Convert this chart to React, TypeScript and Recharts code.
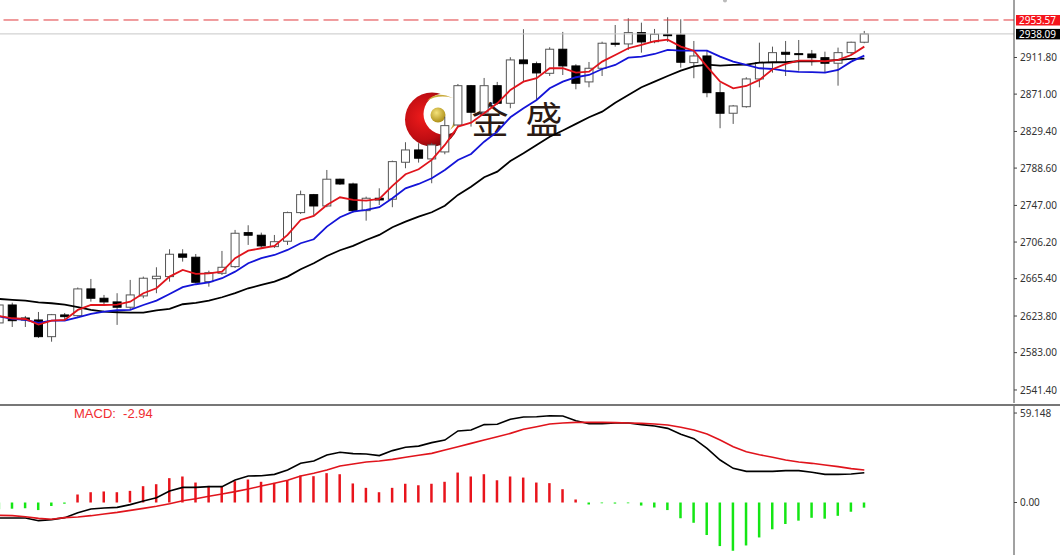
import { Bar, Cell, ComposedChart, Line, ReferenceDot, ReferenceLine, XAxis, YAxis } from "recharts";

// candles, oldest first (the first one is cut by the left edge)
const open = [2616.1, 2636.1, 2621.6, 2619.4, 2600.8, 2625.0, 2624.2, 2654.0, 2643.6, 2639.5, 2633.6, 2646.2, 2665.4, 2667.7, 2692.9, 2689.3, 2662.1, 2671.4, 2678.8, 2716.7, 2713.8, 2701.1, 2707.1, 2739.0, 2759.0, 2746.4, 2776.2, 2770.9, 2741.2, 2755.0, 2753.9, 2795.1, 2808.8, 2798.8, 2806.6, 2836.6, 2880.4, 2851.1, 2880.4, 2860.8, 2909.1, 2904.9, 2894.2, 2921.0, 2902.4, 2884.6, 2899.8, 2927.7, 2926.9, 2939.5, 2929.4, 2937.2, 2936.9, 2906.1, 2913.5, 2872.6, 2849.7, 2857.0, 2887.9, 2906.1, 2917.6, 2916.1, 2915.7, 2911.6, 2905.4, 2917.2, 2928.8];
const high = [2638.3, 2638.7, 2623.9, 2628.3, 2626.1, 2627.2, 2655.6, 2665.1, 2647.3, 2649.2, 2664.0, 2667.7, 2678.1, 2698.2, 2698.2, 2692.9, 2674.3, 2696.3, 2719.7, 2724.9, 2716.7, 2714.1, 2740.1, 2763.5, 2759.8, 2786.5, 2776.8, 2772.4, 2756.8, 2766.1, 2796.9, 2817.4, 2816.3, 2816.6, 2845.9, 2882.3, 2881.2, 2889.0, 2884.6, 2912.1, 2943.3, 2907.2, 2923.2, 2940.3, 2904.3, 2906.8, 2929.4, 2948.0, 2955.5, 2950.6, 2943.6, 2956.6, 2954.4, 2930.2, 2920.2, 2883.8, 2858.9, 2889.8, 2928.3, 2923.9, 2930.2, 2931.3, 2920.2, 2918.3, 2922.8, 2929.4, 2941.4];
const low = [2612.7, 2611.6, 2611.6, 2599.4, 2595.2, 2619.4, 2623.1, 2639.8, 2636.1, 2613.9, 2630.6, 2643.6, 2649.2, 2662.1, 2684.4, 2660.3, 2656.5, 2669.5, 2677.3, 2703.0, 2699.6, 2699.6, 2703.0, 2737.5, 2736.4, 2745.0, 2769.8, 2739.0, 2730.0, 2747.5, 2745.0, 2788.4, 2794.7, 2771.7, 2804.0, 2835.5, 2834.8, 2847.8, 2858.9, 2855.3, 2884.9, 2864.5, 2891.2, 2892.3, 2876.4, 2878.6, 2891.2, 2923.9, 2920.2, 2917.2, 2927.7, 2929.1, 2900.5, 2888.7, 2867.5, 2833.0, 2837.8, 2855.9, 2878.6, 2894.9, 2891.2, 2897.1, 2902.7, 2895.4, 2880.4, 2914.6, 2927.7];
const close = [2636.1, 2618.6, 2619.4, 2600.8, 2625.3, 2623.1, 2654.0, 2643.6, 2639.5, 2633.6, 2647.3, 2665.9, 2668.1, 2692.6, 2689.3, 2661.4, 2672.1, 2678.1, 2716.0, 2713.8, 2701.9, 2706.6, 2739.0, 2759.0, 2746.4, 2776.2, 2770.9, 2741.2, 2755.0, 2753.1, 2795.8, 2808.8, 2799.6, 2814.4, 2835.9, 2880.4, 2850.8, 2880.4, 2860.8, 2909.1, 2904.9, 2894.6, 2921.0, 2902.4, 2883.1, 2899.8, 2927.7, 2926.5, 2939.5, 2929.1, 2937.7, 2936.6, 2906.5, 2913.5, 2872.6, 2849.7, 2857.8, 2887.9, 2906.1, 2917.2, 2915.4, 2915.2, 2911.6, 2905.4, 2917.2, 2928.8, 2938.09];

// moving averages
const maFast = [2623.9, 2621.3, 2620.5, 2614.2, 2618.6, 2619.4, 2630.6, 2636.1, 2636.1, 2636.5, 2639.8, 2649.2, 2654.7, 2667.7, 2675.1, 2670.7, 2671.4, 2673.2, 2688.2, 2696.6, 2699.3, 2701.9, 2714.1, 2730.8, 2735.3, 2747.5, 2756.1, 2753.1, 2752.3, 2754.2, 2768.7, 2781.7, 2787.3, 2797.7, 2814.4, 2834.8, 2839.2, 2849.7, 2860.8, 2875.6, 2884.9, 2888.7, 2899.8, 2899.8, 2894.9, 2896.0, 2907.2, 2914.6, 2922.1, 2925.8, 2929.9, 2931.7, 2923.9, 2919.4, 2901.6, 2884.9, 2877.5, 2880.1, 2886.8, 2898.7, 2904.6, 2908.3, 2908.3, 2907.6, 2909.1, 2914.6, 2923.9];
const maMid = [2623.3, 2620.5, 2619.4, 2616.1, 2618.6, 2618.6, 2622.4, 2626.1, 2628.7, 2630.2, 2630.6, 2636.1, 2640.9, 2648.4, 2655.9, 2659.2, 2661.4, 2665.9, 2673.2, 2682.6, 2688.2, 2691.8, 2697.4, 2704.9, 2709.3, 2723.4, 2733.8, 2740.1, 2742.0, 2745.0, 2755.0, 2766.1, 2770.9, 2777.3, 2786.5, 2797.7, 2804.3, 2818.0, 2829.2, 2845.2, 2855.3, 2864.5, 2877.5, 2884.9, 2889.8, 2892.3, 2899.0, 2903.5, 2911.6, 2912.7, 2915.7, 2920.2, 2919.4, 2919.4, 2919.4, 2912.7, 2907.2, 2903.5, 2899.8, 2899.0, 2896.8, 2895.7, 2895.4, 2894.9, 2897.9, 2907.2, 2913.9];
const maSlow = [2642.8, 2641.7, 2640.9, 2639.1, 2638.0, 2636.5, 2633.6, 2630.6, 2628.7, 2628.0, 2627.6, 2627.6, 2630.2, 2631.7, 2636.9, 2638.4, 2640.9, 2644.7, 2649.2, 2654.7, 2658.4, 2662.1, 2667.7, 2675.9, 2682.6, 2690.7, 2697.1, 2701.9, 2708.5, 2714.1, 2722.7, 2728.9, 2734.5, 2739.4, 2746.7, 2758.7, 2767.9, 2778.4, 2784.6, 2796.5, 2805.1, 2814.4, 2823.6, 2830.5, 2837.8, 2845.2, 2851.5, 2861.5, 2870.1, 2878.6, 2884.9, 2891.2, 2897.1, 2902.0, 2903.8, 2902.7, 2903.5, 2903.8, 2906.1, 2906.5, 2906.5, 2907.6, 2907.6, 2907.9, 2909.1, 2910.2, 2910.5];

// MACD panel
const histogram = [-4.5, -4.1, -3.8, -5.0, -2.3, -0.8, 5.3, 6.8, 7.3, 6.8, 7.7, 10.8, 12.1, 16.1, 17.2, 13.2, 11.0, 10.8, 14.1, 15.2, 13.7, 13.0, 14.7, 17.8, 17.4, 19.4, 18.7, 12.6, 9.7, 6.8, 9.7, 12.4, 11.4, 12.4, 13.7, 19.8, 17.2, 18.7, 14.7, 17.2, 16.5, 13.2, 12.8, 8.8, 2.0, -1.3, -0.5, -0.7, -0.5, -2.0, -3.3, -5.0, -10.4, -13.4, -21.5, -28.8, -31.9, -28.4, -23.1, -17.7, -14.2, -12.0, -10.1, -10.7, -8.8, -6.1, -3.4];
const macdLine = [-10.2, -10.2, -10.2, -12.0, -11.3, -10.0, -6.7, -4.3, -3.6, -3.2, -1.4, 1.0, 3.2, 7.6, 10.0, 10.0, 10.5, 10.5, 14.9, 17.5, 17.7, 18.6, 21.5, 25.9, 27.4, 31.4, 33.2, 32.3, 32.1, 31.0, 34.3, 36.5, 37.3, 39.6, 41.3, 47.3, 47.9, 51.5, 51.7, 55.0, 56.5, 56.7, 57.4, 57.2, 54.1, 52.1, 52.1, 52.6, 52.6, 51.5, 50.6, 49.0, 45.1, 42.2, 35.8, 28.1, 22.6, 20.6, 20.6, 20.6, 21.1, 21.1, 20.0, 18.6, 18.6, 18.8, 19.7];
const signalLine = [-8.5, -8.7, -9.4, -10.5, -11.1, -10.0, -9.6, -8.7, -7.6, -6.5, -5.2, -3.9, -2.5, -0.8, 1.2, 2.5, 4.1, 5.6, 7.2, 8.9, 10.9, 12.7, 14.7, 17.5, 19.3, 21.5, 24.1, 25.5, 26.8, 27.4, 28.5, 29.9, 31.2, 32.5, 34.7, 36.9, 39.1, 41.3, 43.5, 45.7, 48.4, 50.1, 51.9, 52.6, 53.0, 53.0, 53.0, 52.8, 52.6, 52.3, 51.9, 51.2, 49.7, 47.9, 45.3, 41.3, 36.9, 33.6, 31.6, 29.9, 28.1, 26.8, 25.9, 24.8, 23.7, 22.4, 21.5];

const priceTicks = [2911.8, 2871.0, 2829.4, 2788.6, 2747.0, 2706.2, 2665.4, 2623.8, 2583.0, 2541.4];
const macdTicks = [59.148, 0];
const askPrice = 2953.57;
const lastPrice = 2938.09;

const priceData = open.map((o, i) => ({
  idx: i - 1,
  open: o,
  high: high[i],
  low: low[i],
  close: close[i],
  maFast: maFast[i],
  maMid: maMid[i],
  maSlow: maSlow[i],
}));

const macdData = histogram.map((h, i) => ({
  idx: i - 1,
  hist: h,
  macd: macdLine[i],
  signal: signalLine[i],
}));

const xDomain = [-0.938, 76.42];
const tickStyle = { fill: "#333", fontSize: 10, fontFamily: "'Noto Sans'" };

const Candle = (props: any) => {
  const { x, y, width, height, payload } = props;
  const perUnit = height / (payload.high - payload.low);
  const top = y + (payload.high - Math.max(payload.open, payload.close)) * perUnit;
  const bottom = y + (payload.high - Math.min(payload.open, payload.close)) * perUnit;
  const mid = x + width / 2;
  const down = payload.close < payload.open;
  return (
    <g>
      <line x1={mid} x2={mid} y1={y} y2={y + height} stroke="#555" strokeWidth={1} />
      <rect
        x={x + 0.5}
        y={top}
        width={width - 1}
        height={Math.max(bottom - top, 1)}
        fill={down ? "#000" : "#fff"}
        stroke={down ? "#000" : "#555"}
        strokeWidth={1}
      />
    </g>
  );
};

const priceTag = (fill: string, text: string) => (props: any) => {
  const { viewBox } = props;
  const right = viewBox.x + viewBox.width;
  return (
    <g>
      <rect x={right + 2} y={viewBox.y - 5} width={44} height={10.5} fill={fill} />
      <text x={right + 5} y={viewBox.y + 4} fill="#fff" fontSize={10} fontFamily="'Noto Sans'">
        {text}
      </text>
    </g>
  );
};

// company mark, sits behind the candles
const Logo = () => (
  <svg width={1060} height={555} style={{ position: "absolute", left: 0, top: 0 }}>
    <defs>
      <radialGradient id="moon" cx="0.35" cy="0.45" r="0.7">
        <stop offset="0" stopColor="#f01c1c" />
        <stop offset="0.6" stopColor="#c00d12" />
        <stop offset="1" stopColor="#5e0508" />
      </radialGradient>
      <radialGradient id="ball" cx="0.4" cy="0.35" r="0.7">
        <stop offset="0" stopColor="#f4e27a" />
        <stop offset="1" stopColor="#a98a12" />
      </radialGradient>
    </defs>
    <circle cx={432} cy={119.5} r={27} fill="url(#moon)" />
    <circle cx={444} cy={114} r={20.5} fill="#fff" />
    <circle cx={438} cy={115} r={7.5} fill="url(#ball)" />
    <path d="M427 101 Q436 90 453 98 Q438 94 427 101 Z" fill="#c9aa3a" />
    <path d="M458 112 Q461 122 450 130 Q456 121 454 113 Z" fill="#c9aa3a" />
    <text x={490} y={134} textAnchor="middle" fontSize={37} fontFamily="'Noto Sans CJK SC'" fill="#2b1a14">
      金
    </text>
    <text x={544} y={134} textAnchor="middle" fontSize={37} fontFamily="'Noto Sans CJK SC'" fill="#2b1a14">
      盛
    </text>
  </svg>
);

export default function App() {
  return (
    <div style={{ position: "absolute", left: 0, top: 0, width: 1060, height: 555, overflow: "hidden", background: "#fff" }}>
      <Logo />
      <div style={{ position: "absolute", left: 0, top: 0 }}>
        <ComposedChart width={1060} height={403} data={priceData} margin={{ top: 0, right: 0, bottom: 0, left: 0 }}>
          <XAxis dataKey="idx" type="number" domain={xDomain} allowDataOverflow hide />
          <YAxis
            orientation="right"
            width={46}
            domain={[2526.9, 2975.85]}
            allowDataOverflow
            ticks={priceTicks}
            interval={0}
            tickFormatter={(v: number) => v.toFixed(2)}
            tick={tickStyle}
            tickSize={3}
            tickMargin={3}
            stroke="#444"
          />
          <ReferenceLine y={lastPrice} stroke="#c8c8c8" strokeWidth={1} label={priceTag("#000", "2938.09")} />
          <ReferenceLine
            y={askPrice}
            stroke="#e0393c"
            strokeWidth={1}
            strokeDasharray="15 5"
            strokeDashoffset={4.5}
            label={priceTag("#f5141c", "2953.57")}
          />
          <ReferenceDot x={54.37} y={2975.2} r={2} fill="#bbb" stroke="none" />
          <Bar
            dataKey={(d: any) => [d.low, d.high]}
            barSize={9}
            shape={Candle}
            isAnimationActive={false}
          />
          <Line dataKey="maSlow" type="linear" stroke="#000" strokeWidth={1.8} dot={false} isAnimationActive={false} />
          <Line dataKey="maMid" type="linear" stroke="#1414d8" strokeWidth={1.8} dot={false} isAnimationActive={false} />
          <Line dataKey="maFast" type="linear" stroke="#e0141c" strokeWidth={1.8} dot={false} isAnimationActive={false} />
        </ComposedChart>
      </div>
      <div style={{ position: "absolute", left: 0, top: 403, width: 1060, height: 3, background: "#fff" }}>
        <div style={{ marginTop: 1, height: 2, background: "#777" }} />
      </div>
      <div style={{ position: "absolute", left: 0, top: 406 }}>
        <ComposedChart width={1060} height={149} data={macdData} margin={{ top: 0, right: 0, bottom: 0, left: 0 }}>
          <XAxis dataKey="idx" type="number" domain={xDomain} allowDataOverflow hide />
          <YAxis
            orientation="right"
            width={46}
            domain={[-34.7, 63.8]}
            allowDataOverflow
            ticks={macdTicks}
            interval={0}
            tickFormatter={(v: number) => (v === 0 ? "0.00" : String(v))}
            tick={tickStyle}
            tickSize={3}
            tickMargin={3}
            stroke="#444"
          />
          <Bar dataKey="hist" barSize={2.5} isAnimationActive={false}>
            {macdData.map((d) => (
              <Cell key={d.idx} fill={d.hist < 0 ? "#14e614" : "#e8141c"} />
            ))}
          </Bar>
          <Line dataKey="macd" type="linear" stroke="#000" strokeWidth={1.6} dot={false} isAnimationActive={false} />
          <Line dataKey="signal" type="linear" stroke="#e0141c" strokeWidth={1.6} dot={false} isAnimationActive={false} />
        </ComposedChart>
      </div>
      <div
        style={{
          position: "absolute",
          left: 74,
          top: 406,
          color: "#f02c30",
          fontFamily: "'Liberation Sans'",
          fontSize: 13,
          whiteSpace: "pre",
        }}
      >
        {"MACD:  -2.94"}
      </div>
    </div>
  );
}
